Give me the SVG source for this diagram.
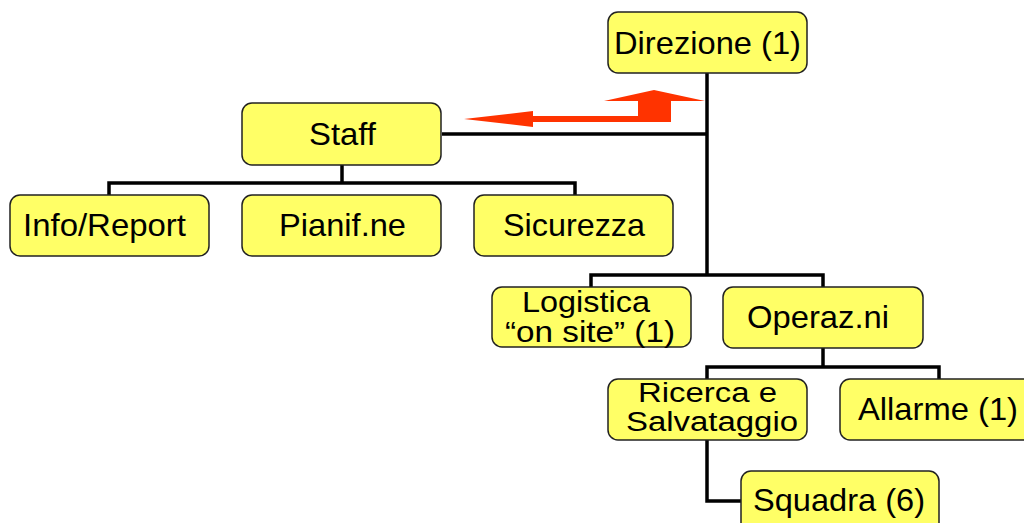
<svg xmlns="http://www.w3.org/2000/svg" width="1024" height="523" viewBox="0 0 1024 523">
<style>
.box{fill:#ffff66;stroke:#222;stroke-width:1.5}
.lbl{font-family:"Liberation Sans",Arial,sans-serif;font-size:32px;fill:#000}
.two{font-size:29px}
.tight{font-size:27px}
.con{fill:none;stroke:#000;stroke-width:3.5}
</style>
<rect width="1024" height="523" fill="#fff"/>
<g id="connectors">
<polyline class="con" points="707,73 707,275"/>
<polyline class="con" points="442,134 707,134"/>
<polyline class="con" points="342,165 342,183"/>
<polyline class="con" points="109,195 109,183 575,183 575,195"/>
<polyline class="con" points="591,287 591,275 823,275 823,287"/>
<polyline class="con" points="823,348 823,367"/>
<polyline class="con" points="707,379 707,367 939,367 939,379"/>
<polyline class="con" points="707,440 707,501 741,501"/>
</g>
<g id="arrow">
<polygon fill="#ff3300" points="464,119 533,111 533,116 638,116 638,101 604,101 654,90 705,101 671,101 671,122 533,122 533,127"/>
</g>
<g id="direzione"><rect class="box" x="608" y="12" width="199" height="61" rx="10"/><text class="lbl" x="614" y="54" textLength="187" lengthAdjust="spacingAndGlyphs">Direzione (1)</text></g>
<g id="staff"><rect class="box" x="242" y="103" width="199" height="62" rx="10"/><text class="lbl" x="309" y="145" textLength="67" lengthAdjust="spacingAndGlyphs">Staff</text></g>
<g id="info"><rect class="box" x="10" y="195" width="199" height="61" rx="10"/><text class="lbl" x="23" y="236" textLength="163" lengthAdjust="spacingAndGlyphs">Info/Report</text></g>
<g id="pianif"><rect class="box" x="242" y="195" width="199" height="61" rx="10"/><text class="lbl" x="279" y="236" textLength="127" lengthAdjust="spacingAndGlyphs">Pianif.ne</text></g>
<g id="sicurezza"><rect class="box" x="474" y="195" width="199" height="61" rx="10"/><text class="lbl" x="503" y="236" textLength="142" lengthAdjust="spacingAndGlyphs">Sicurezza</text></g>
<g id="logistica"><rect class="box" x="492" y="287" width="199" height="60" rx="10"/><text class="lbl two" x="522" y="312" textLength="128" lengthAdjust="spacingAndGlyphs">Logistica</text><text class="lbl two" x="505" y="342" textLength="170" lengthAdjust="spacingAndGlyphs">“on site” (1)</text></g>
<g id="operazni"><rect class="box" x="723" y="287" width="200" height="61" rx="10"/><text class="lbl" x="747" y="328" textLength="142" lengthAdjust="spacingAndGlyphs">Operaz.ni</text></g>
<g id="ricerca"><rect class="box" x="608" y="379" width="199" height="61" rx="10"/><text class="lbl tight" x="638" y="402" textLength="139" lengthAdjust="spacingAndGlyphs">Ricerca e</text><text class="lbl tight" x="626" y="431" textLength="172" lengthAdjust="spacingAndGlyphs">Salvataggio</text></g>
<g id="allarme"><rect class="box" x="840" y="379" width="199" height="61" rx="10"/><text class="lbl" x="858" y="420" textLength="160" lengthAdjust="spacingAndGlyphs">Allarme (1)</text></g>
<g id="squadra"><rect class="box" x="741" y="471" width="198" height="70" rx="10"/><text class="lbl" x="753" y="511" textLength="172" lengthAdjust="spacingAndGlyphs">Squadra (6)</text></g>
</svg>
